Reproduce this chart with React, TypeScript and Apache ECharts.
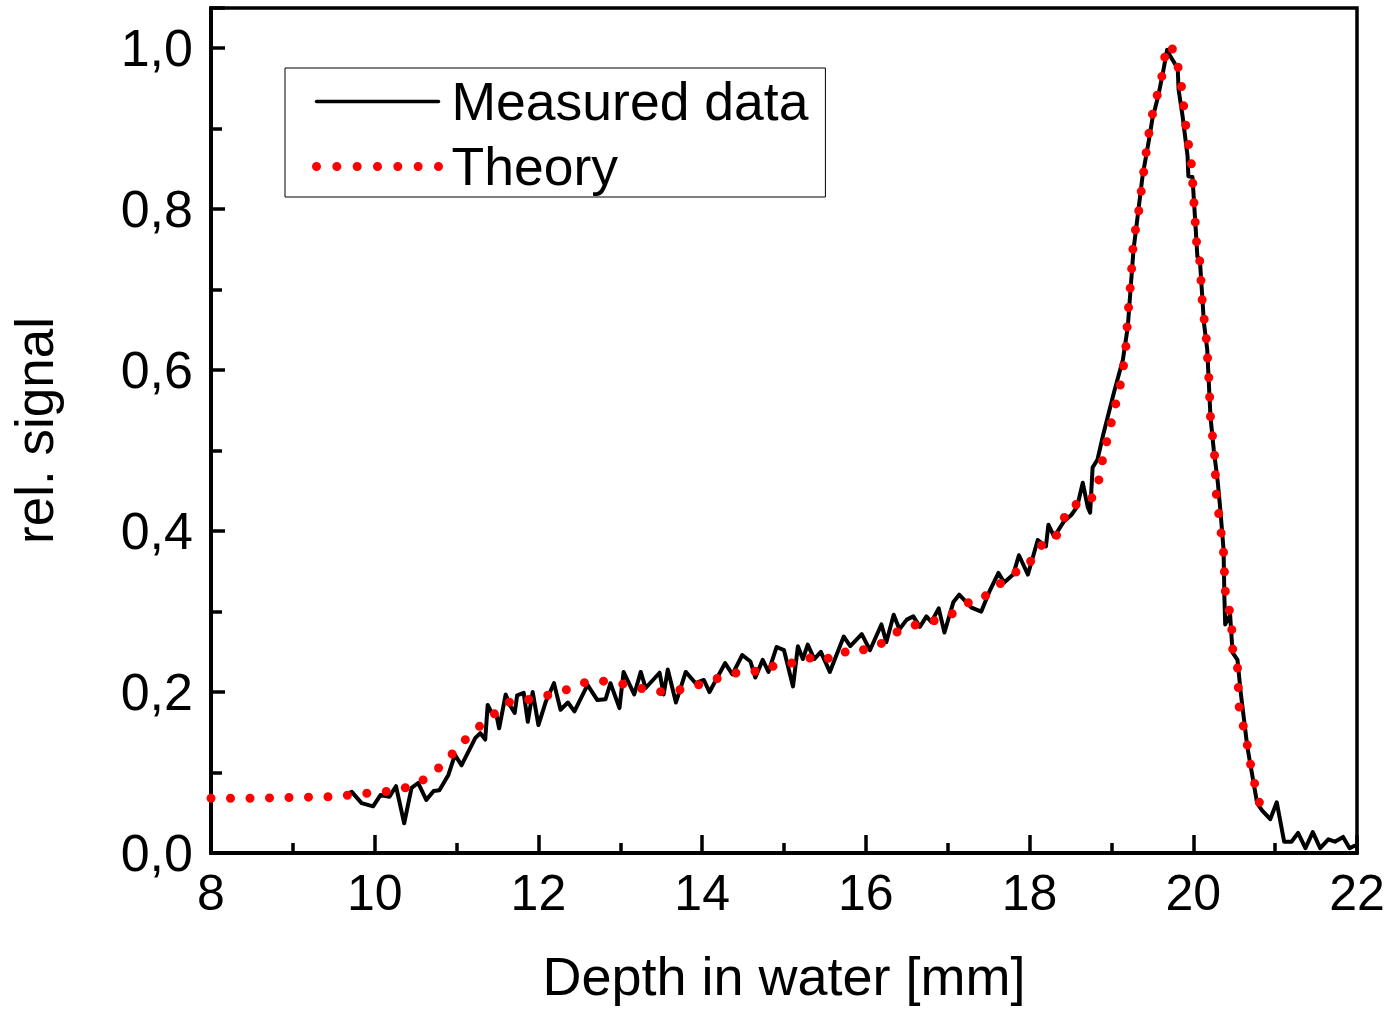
import React, { useEffect, useRef } from "react";
import * as echarts from "echarts";

const measuredX = [
  9.64, 9.72, 9.84, 9.98, 10.07, 10.18, 10.26, 10.36, 10.45, 10.53, 10.63, 10.72, 10.79, 10.9, 10.98, 11.06,
  11.23, 11.29, 11.35, 11.38, 11.43, 11.48, 11.52, 11.6, 11.65, 11.71, 11.74, 11.82, 11.87, 11.93, 12.0, 12.09,
  12.19, 12.27, 12.36, 12.44, 12.6, 12.72, 12.82, 12.88, 12.99, 13.04, 13.17, 13.25, 13.31, 13.48, 13.53, 13.58,
  13.68, 13.8, 13.92, 14.02, 14.09, 14.28, 14.37, 14.49, 14.59, 14.65, 14.74, 14.81, 14.91, 15.0, 15.11, 15.17,
  15.23, 15.29, 15.37, 15.45, 15.56, 15.73, 15.81, 15.95, 16.05, 16.19, 16.25, 16.34, 16.41, 16.5, 16.58, 16.66,
  16.74, 16.8, 16.89, 16.96, 17.07, 17.14, 17.29, 17.41, 17.51, 17.62, 17.69, 17.8, 17.87, 17.98, 18.1, 18.2,
  18.23, 18.3, 18.42, 18.51, 18.58, 18.65, 18.71, 18.74, 18.77, 18.83, 18.9, 19.03, 19.14, 19.2, 19.24, 19.27,
  19.32, 19.38, 19.46, 19.5, 19.57, 19.63, 19.68, 19.72, 19.81, 19.82, 19.87, 19.93, 19.94, 19.99, 20.03, 20.05,
  20.08, 20.13, 20.17, 20.21, 20.25, 20.3, 20.33, 20.37, 20.38, 20.39, 20.45, 20.48, 20.54, 20.58, 20.66, 20.78,
  20.84, 20.94, 21.02, 21.11, 21.2, 21.28, 21.37, 21.46, 21.55, 21.65, 21.73, 21.83, 21.91, 21.97,
];
const measuredY = [
  0.072, 0.076, 0.062, 0.058, 0.072, 0.07, 0.083, 0.037, 0.081, 0.087, 0.066, 0.077, 0.078, 0.097, 0.122, 0.109,
  0.143, 0.149, 0.141, 0.184, 0.174, 0.175, 0.155, 0.197, 0.184, 0.174, 0.196, 0.199, 0.163, 0.2, 0.159, 0.188,
  0.211, 0.178, 0.187, 0.176, 0.209, 0.19, 0.191, 0.211, 0.18, 0.225, 0.197, 0.225, 0.205, 0.224, 0.197, 0.228,
  0.187, 0.225, 0.211, 0.215, 0.2, 0.236, 0.222, 0.246, 0.238, 0.218, 0.24, 0.225, 0.256, 0.252, 0.207, 0.257,
  0.241, 0.259, 0.241, 0.25, 0.225, 0.269, 0.257, 0.272, 0.252, 0.284, 0.262, 0.296, 0.278, 0.29, 0.294, 0.281,
  0.294, 0.287, 0.304, 0.274, 0.312, 0.321, 0.305, 0.3, 0.325, 0.348, 0.336, 0.346, 0.37, 0.346, 0.389, 0.381,
  0.408, 0.393, 0.412, 0.42, 0.43, 0.46, 0.43, 0.423, 0.479, 0.489, 0.52, 0.572, 0.613, 0.654, 0.709, 0.75,
  0.791, 0.841, 0.887, 0.912, 0.94, 0.97, 0.998, 0.99, 0.975, 0.949, 0.915, 0.866, 0.841, 0.84, 0.775, 0.741,
  0.738, 0.659, 0.626, 0.542, 0.501, 0.46, 0.427, 0.377, 0.318, 0.284, 0.296, 0.249, 0.24, 0.199, 0.132, 0.062,
  0.053, 0.042, 0.063, 0.014, 0.014, 0.025, 0.006, 0.026, 0.006, 0.017, 0.014, 0.02, 0.006, 0.009,
];

const theoryX = [
  8.0, 8.5, 9.0, 9.5, 9.87, 10.12, 10.35, 10.58, 10.81, 11.0, 11.19, 11.41, 11.61, 11.85, 12.07, 12.28, 12.49,
  12.71, 12.94, 13.16, 13.38, 13.62, 13.85, 14.06, 14.29, 14.52, 14.74, 14.94, 15.2, 15.39, 15.61, 15.81, 16.03,
  16.2, 16.33, 16.51, 16.72, 16.9, 17.07, 17.19, 17.34, 17.44, 17.58, 17.71, 17.85, 17.98, 18.06, 18.19, 18.31,
  18.41, 18.51, 18.62, 18.71, 18.82, 18.87, 18.91, 18.98, 19.02, 19.09, 19.13, 19.17, 19.2, 19.24, 19.27, 19.32,
  19.38, 19.44, 19.48, 19.53, 19.6, 19.64, 19.67, 19.76, 19.82, 19.86, 19.91, 19.98, 20.0, 20.04, 20.08, 20.11,
  20.16, 20.19, 20.21, 20.26, 20.28, 20.31, 20.34, 20.37, 20.38, 20.39, 20.44, 20.47, 20.48, 20.54, 20.56, 20.61,
  20.66, 20.7, 20.75, 20.81,
];
const theoryY = [
  0.068, 0.068, 0.069, 0.07, 0.074, 0.076, 0.08, 0.09, 0.108, 0.129, 0.15, 0.168, 0.187, 0.19, 0.195, 0.2, 0.21,
  0.215, 0.211, 0.208, 0.2, 0.201, 0.205, 0.213, 0.22, 0.227, 0.225, 0.236, 0.236, 0.246, 0.24, 0.254, 0.252,
  0.261, 0.272, 0.281, 0.286, 0.29, 0.298, 0.306, 0.318, 0.318, 0.328, 0.342, 0.35, 0.355, 0.373, 0.387, 0.39,
  0.414, 0.433, 0.433, 0.433, 0.451, 0.475, 0.5, 0.524, 0.547, 0.571, 0.595, 0.619, 0.667, 0.715, 0.763, 0.787,
  0.835, 0.883, 0.908, 0.932, 0.955, 0.98, 1.004, 0.998, 0.974, 0.95, 0.902, 0.854, 0.82, 0.759, 0.735, 0.685,
  0.638, 0.59, 0.542, 0.494, 0.447, 0.422, 0.398, 0.373, 0.35, 0.326, 0.302, 0.279, 0.254, 0.23, 0.182, 0.158,
  0.134, 0.11, 0.086, 0.062,
];

const seriesNames = ["Measured data", "Theory"];
const xTitle = "Depth in water [mm]";
const yTitle = "rel. signal";

const FONT = "'Liberation Sans', Arial, sans-serif";
const measuredLine = { color: "#000", width: 4, join: "round", cap: "round" };
const theoryLine = { color: "#ff0000", width: 9, type: [0, 19.5], cap: "round" };

export default function App() {
  const ref = useRef<HTMLDivElement>(null);

  useEffect(() => {
    if (!ref.current) return;
    const chart = echarts.init(ref.current, null, { renderer: "svg" });
    const measured = measuredX.map((x, i) => [x, measuredY[i]]);
    const theory = theoryX.map((x, i) => [x, theoryY[i]]);
    const fmt = (v: number) => v.toFixed(1).replace(".", ",");
    chart.setOption({
      animation: false,
      backgroundColor: "#ffffff",
      grid: {
        left: 207,
        right: 34,
        top: 8,
        bottom: 156,
        show: true,
        borderColor: "#000",
        borderWidth: 3.5,
        backgroundColor: "transparent",
      },
      legend: {
        left: 285,
        top: 68,
        orient: "vertical",
        data: [
          {
            name: seriesNames[0],
            itemStyle: { opacity: 0 },
            lineStyle: { ...measuredLine, width: 3.5 },
          },
          {
            name: seriesNames[1],
            itemStyle: { opacity: 0 },
            lineStyle: { ...theoryLine, type: [0, 20.33] },
          },
        ],
        backgroundColor: "#fff",
        borderColor: "#000",
        borderWidth: 1,
        borderRadius: 0,
        padding: [5, 17, 2, 27],
        itemWidth: 122,
        itemHeight: 10,
        itemGap: 8,
        textStyle: {
          fontFamily: FONT,
          fontSize: 53.5,
          color: "#000",
          lineHeight: 57,
          padding: [0, 0, 0, 8],
        },
      },
      xAxis: {
        type: "value",
        min: 8,
        max: 22,
        interval: 2,
        name: xTitle,
        nameLocation: "middle",
        nameGap: 96,
        nameTextStyle: { fontFamily: FONT, fontSize: 54, color: "#000" },
        axisLine: { show: true, onZero: false, lineStyle: { color: "#000", width: 4 } },
        axisTick: { show: true, inside: true, length: 18, lineStyle: { color: "#000", width: 3.5 } },
        minorTick: { show: true, splitNumber: 2, length: 10, lineStyle: { color: "#000", width: 3.5 } },
        axisLabel: {
          fontFamily: FONT,
          fontSize: 50,
          color: "#000",
          margin: 15,
          formatter: (v: number) => String(v),
        },
        splitLine: { show: false },
      },
      yAxis: {
        type: "value",
        min: 0,
        max: 1.05,
        interval: 0.2,
        name: yTitle,
        nameLocation: "middle",
        nameGap: 150,
        nameTextStyle: { fontFamily: FONT, fontSize: 53, color: "#000" },
        axisLine: { show: true, onZero: false, lineStyle: { color: "#000", width: 4 } },
        axisTick: { show: true, inside: true, length: 14, lineStyle: { color: "#000", width: 3.5 } },
        minorTick: { show: true, splitNumber: 2, length: 11, lineStyle: { color: "#000", width: 3.5 } },
        axisLabel: {
          fontFamily: FONT,
          fontSize: 52,
          color: "#000",
          margin: 18,
          showMaxLabel: false,
          formatter: (v: number) => fmt(v),
        },
        splitLine: { show: false },
      },
      series: [
        {
          name: seriesNames[0],
          type: "line",
          data: measured,
          showSymbol: false,
          symbol: "none",
          lineStyle: measuredLine,
          itemStyle: { color: "#000" },
          z: 2,
        },
        {
          name: seriesNames[1],
          type: "line",
          data: theory,
          showSymbol: false,
          symbol: "none",
          lineStyle: theoryLine,
          itemStyle: { color: "#ff0000" },
          z: 3,
        },
      ],
    });
    return () => chart.dispose();
  }, []);

  return (
    <div
      ref={ref}
      style={{ position: "fixed", left: 0, top: 0, width: 1391, height: 1009, background: "#fff" }}
    />
  );
}
